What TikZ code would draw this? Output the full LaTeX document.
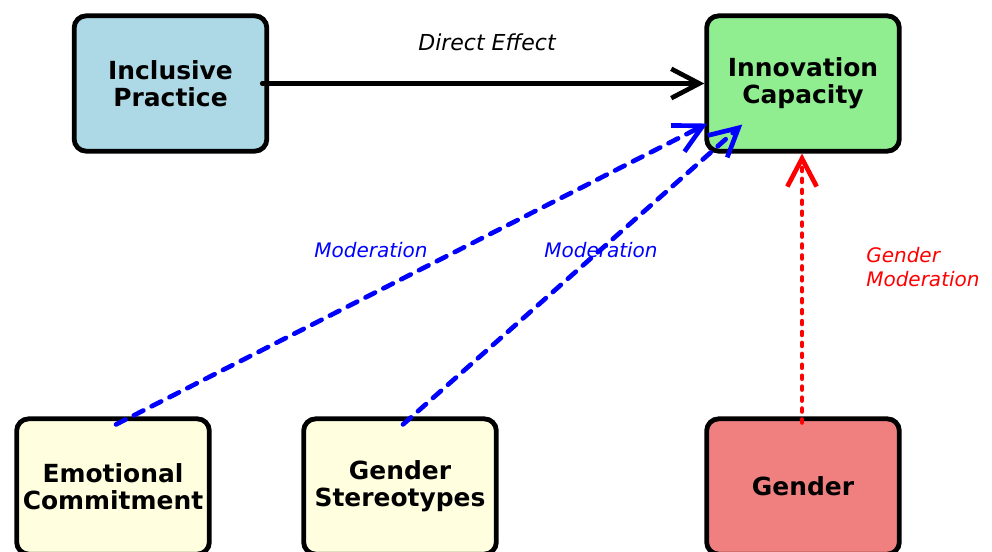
\documentclass[tikz,border=0pt]{standalone}
\usepackage{fontspec}
\setmainfont{DejaVu Sans}
\usetikzlibrary{arrows.meta,positioning}

\definecolor{ipblue}{RGB}{173,216,230}
\definecolor{icgreen}{RGB}{144,238,144}
\definecolor{moyellow}{RGB}{255,255,224}
\definecolor{gcoral}{RGB}{240,128,128}

\begin{document}
\begin{tikzpicture}[x=0.75pt,y=0.75pt,
    varbox/.style={draw=black, line width=3.6pt, rounded corners=9pt,
      minimum width=144.5pt, minimum height=101.5pt, align=center,
      font=\bfseries\fontsize{18.7}{20.5}\selectfont},
    effarrow/.style={line width=3.5pt, line cap=round,
      -{Straight Barb[length=21pt,width=22pt]}},
    modline/.style={effarrow, blue, dash pattern=on 8pt off 7pt},
    genline/.style={effarrow, red, dash pattern=on 2.2pt off 6pt},
    lbl/.style={font=\itshape\fontsize{15}{18}\selectfont}]
    \useasboundingbox (0,0) rectangle (992,552);
    % variables
    \node[varbox, fill=ipblue] (ip) at (170.5,468.5) {Inclusive\\Practice};
    \node[varbox, fill=icgreen] (ic) at (803,468.5) {Innovation\\Capacity};
    \node[varbox, fill=moyellow] (ec) at (113,65.5) {Emotional\\Commitment};
    \node[varbox, fill=moyellow] (gs) at (400,65.5) {Gender\\Stereotypes};
    \node[varbox, fill=gcoral] (g) at (803,65.5) {Gender};
    % arrow ends
    \coordinate (ipout) at ([shift={(-7,0)}]ip.east);
    \coordinate (ecout) at ([shift={(3,-8)}]ec.north);
    \coordinate (gsout) at ([shift={(3,-8)}]gs.north);
    \coordinate (gout) at ([shift={(-1,-6)}]g.north);
    \coordinate (icin1) at ([shift={(3,30)}]ic.south west);
    \coordinate (icin2) at ([shift={(38,29)}]ic.south west);
    \coordinate (icin3) at ([shift={(-1,0)}]ic.south);
    % effects
    \draw[effarrow] (ipout) -- (ic.west);
    \draw[modline] (ecout) -- (icin1);
    \draw[modline] (gsout) -- (icin2);
    \draw[genline] (gout) -- (icin3);
    % labels
    \node[lbl, font=\itshape\fontsize{16.5}{19}\selectfont] (delbl) at (487,510) {Direct Effect};
    \node[lbl, text=blue] (m1lbl) at (371,302) {Moderation};
    \node[lbl, text=blue] (m2lbl) at (601,302) {Moderation};
    \node[lbl, text=red, anchor=west, align=left, inner sep=0pt] (gmlbl) at (866,284.5) {Gender\\Moderation};
\end{tikzpicture}
\end{document}
